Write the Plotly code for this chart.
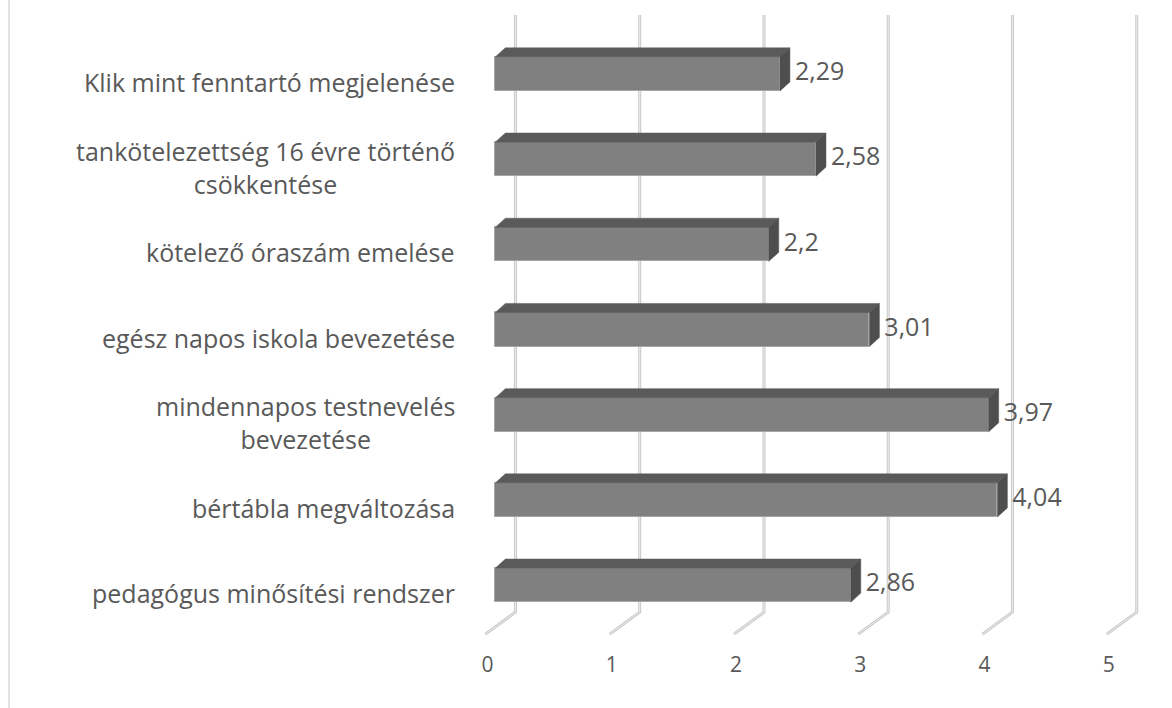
import plotly.graph_objects as go

# Data (bottom to top, as drawn)
categories = [
    "pedagógus minősítési rendszer",
    "bértábla megváltozása",
    "mindennapos testnevelés<br>bevezetése",
    "egész napos iskola bevezetése",
    "kötelező óraszám emelése",
    "tankötelezettség 16 évre történő<br>csökkentése",
    "Klik mint fenntartó megjelenése",
]
values = [2.86, 4.04, 3.97, 3.01, 2.2, 2.58, 2.29]
tick_vals = [0, 1, 2, 3, 4, 5]
tick_text = ["0", "1", "2", "3", "4", "5"]

# Pseudo-3D geometry (in data units)
BAR_W = 0.4
DX = 0.08      # depth shift along value axis
DY = 0.106     # depth shift along category axis
WALL_DX = 0.161
FLOOR_DX = -0.08
WALL_TOP = 6.69
WALL_BOT = -0.317
FLOOR_FRONT = -0.575

TEXT = "#595959"
FONT = "Open Sans"

ys = list(range(len(categories)))
fig = go.Figure()

# Gridlines (back wall + floor), drawn below the bars
for v in tick_vals:
    path = "M %f,%f L %f,%f L %f,%f" % (v + WALL_DX, WALL_TOP, v + WALL_DX, WALL_BOT,
                                        v + FLOOR_DX, FLOOR_FRONT)
    fig.add_shape(type="path", path=path, xref="x", yref="y", layer="below",
                  line=dict(color="#c8c8c8", width=3))
    fig.add_shape(type="path", path=path, xref="x", yref="y", layer="below",
                  line=dict(color="#eeeeee", width=1))

# Front faces
fig.add_trace(go.Bar(x=values, y=ys, orientation="h", width=BAR_W,
                     marker=dict(color="#808080", line=dict(color="#a6a6a6", width=1)),
                     hoverinfo="skip", showlegend=False))

# Top and side faces
tx, ty = [], []
sx, sy = [], []
for y, v in zip(ys, values):
    t = y + BAR_W / 2
    b = y - BAR_W / 2
    tx += [0, v, v + DX, DX, 0, None]
    ty += [t, t, t + DY, t + DY, t, None]
    sx += [v, v, v + DX, v + DX, v, None]
    sy += [b, t, t + DY, b + DY, b, None]
fig.add_trace(go.Scatter(x=tx, y=ty, mode="lines", fill="toself", fillcolor="#5a5a5a",
                         line=dict(color="#5a5a5a", width=0.5), hoverinfo="skip", showlegend=False))
fig.add_trace(go.Scatter(x=sx, y=sy, mode="lines", fill="toself", fillcolor="#4e4e4e",
                         line=dict(color="#4e4e4e", width=0.5), hoverinfo="skip", showlegend=False))

# Data labels
labels = [("%g" % v).replace(".", ",") for v in values]
fig.add_trace(go.Scatter(x=[v + DX + 0.04 for v in values], y=ys, mode="text", text=labels,
                         textposition="middle right",
                         textfont=dict(family=FONT, size=25, color=TEXT),
                         hoverinfo="skip", showlegend=False))

# Category labels
for y, c in zip(ys, categories):
    fig.add_annotation(x=-0.0387, xref="paper", y=y, yref="y", text=c, showarrow=False,
                       xanchor="right", yanchor="middle", align="center", yshift=-8,
                       font=dict(family=FONT, size=25, color=TEXT))

# Left frame line
fig.add_shape(type="line", xref="paper", yref="paper", x0=-0.7064, x1=-0.7064, y0=-1, y1=2,
              line=dict(color="#d9d9d9", width=1.5))

fig.update_layout(
    width=1172, height=708,
    margin=dict(l=483, r=18, t=10, b=59),
    paper_bgcolor="white", plot_bgcolor="white",
    font=dict(family=FONT, color=TEXT),
    xaxis=dict(range=[-0.1, 5.3], tickvals=tick_vals, ticktext=tick_text,
               showgrid=False, zeroline=False, showline=False, ticks="",
               tickfont=dict(family=FONT, size=21, color=TEXT),
               ticklabelshift=-8, ticklabelstandoff=1),
    yaxis=dict(range=[-0.75, 6.75], showgrid=False, zeroline=False, showline=False,
               showticklabels=False, ticks=""),
    bargap=0,
)

fig.write_html("out.html", config={"displayModeBar": False},
               post_script="document.body.style.margin='0';")
